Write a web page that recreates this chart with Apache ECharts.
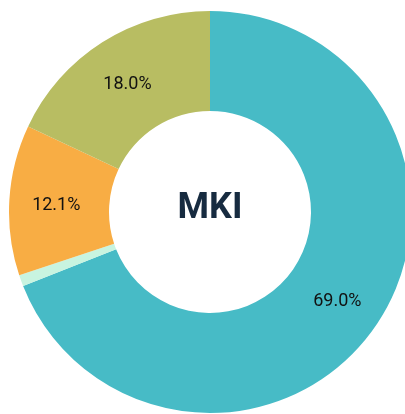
<!DOCTYPE html>
<html>
<head>
<meta charset="utf-8">
<script src="https://cdn.jsdelivr.net/npm/echarts@6/dist/echarts.min.js"></script>
<style>
  html, body { margin: 0; padding: 0; background: #fff; }
  #chart { width: 405px; height: 414px; }
</style>
</head>
<body>
<div id="chart"></div>
<script>
const names = ['A', 'B', 'C', 'D']
const values = [69.0, 0.9, 12.1, 18.0]
const colors = ['#47BBC6', '#C8F4E0', '#F8AD44', '#B8BD62']
const showLabel = [true, false, true, true]
const centerText = 'MKI'

const chart = echarts.init(document.getElementById('chart'))
const option = {
  animation: false,
  graphic: [{
    type: 'text',
    x: 210,
    y: 209,
    style: {
      text: centerText,
      align: 'center',
      verticalAlign: 'middle',
      fontFamily: 'Roboto',
      fontSize: 36,
      fontWeight: 'bold',
      fill: '#172B40'
    },
    z: 10
  }],
  series: [{
    type: 'pie',
    center: [210, 212],
    radius: [101, 201],
    startAngle: 90,
    clockwise: true,
    avoidLabelOverlap: false,
    label: {
      position: 'inside',
      fontFamily: 'Roboto',
      fontSize: 18,
      color: '#111',
      offset: [0, 3],
      formatter: p => p.value.toFixed(1) + '%'
    },
    labelLine: { show: false },
    itemStyle: { borderWidth: 0 },
    data: values.map((v, i) => ({
      name: names[i],
      value: v,
      itemStyle: { color: colors[i] },
      label: { show: showLabel[i] }
    }))
  }]
}
chart.setOption(option)
</script>
</body>
</html>
